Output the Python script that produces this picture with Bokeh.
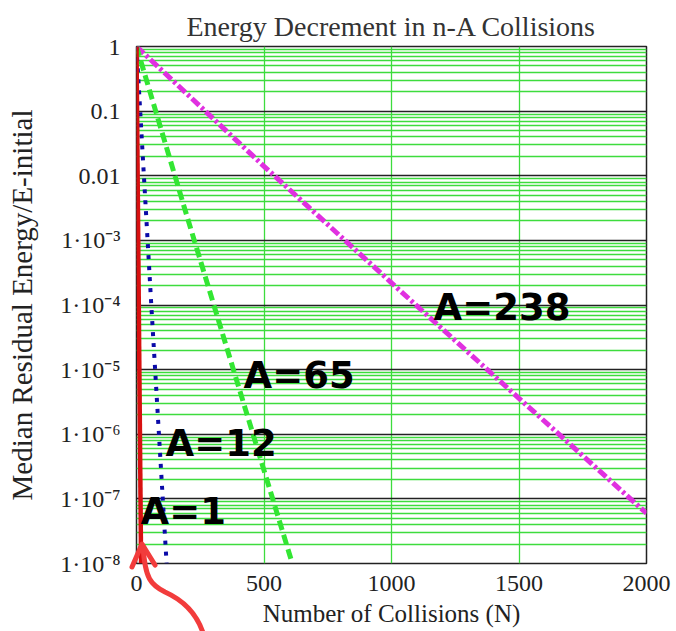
from bokeh.plotting import figure
from bokeh.models import Range1d, FixedTicker, CustomJSTickFormatter, ColumnDataSource, Div
from bokeh.layouts import column
from bokeh.core.properties import value
from bokeh.embed import file_html
from bokeh.resources import INLINE

# ---- data ----
n_a1 = [0, 18]
e_a1 = [1.0, 1e-8]
n_a12 = [0, 58, 118]
e_a12 = [1.0, 1e-4, 1e-8]
n_a65 = [0, 190, 380, 611]
e_a65 = [1.0, 3e-3, 1e-5, 1e-8]
n_a238 = [0, 500, 1000, 1500, 2000]
e_a238 = [1.0, 1.4e-2, 2.2e-4, 3.6e-6, 6e-8]

label_text = ["A=1", "A=12", "A=65", "A=238"]
label_n = [16, 114, 420, 1165]
label_e = [6.3e-8, 7.3e-7, 8.1e-6, 9.0e-5]

x_ticks = [0, 500, 1000, 1500, 2000]
y_ticks = [1e-8, 1e-7, 1e-6, 1e-5, 1e-4, 1e-3, 1e-2, 1e-1, 1.0]
y_tick_labels = ["1·10⁻⁸", "1·10⁻⁷", "1·10⁻⁶", "1·10⁻⁵", "1·10⁻⁴", "1·10⁻³", "0.01", "0.1", "1"]

SERIF = "Liberation Serif"

p = figure(frame_width=510, frame_height=517, output_backend="svg", toolbar_location=None,
           y_axis_type="log", x_range=Range1d(0, 2000), y_range=Range1d(1e-8, 1.0),
           min_border_left=136, min_border_right=30, min_border_top=46, min_border_bottom=68,
           title="Energy Decrement in n-A Collisions")

p.background_fill_color = "white"
p.border_fill_color = "white"
p.outline_line_color = "#222222"
p.outline_line_width = 1.5

p.title.text_font = SERIF
p.title.text_font_size = "28px"
p.title.text_font_style = "normal"
p.title.text_color = "#333333"
p.title.align = "center"

minor = [m * t for t in y_ticks[:-1] for m in range(2, 10)]
yt = FixedTicker(ticks=y_ticks, minor_ticks=minor)
p.yaxis.ticker = yt
p.ygrid.ticker = yt
p.yaxis.formatter = CustomJSTickFormatter(args=dict(tvals=y_ticks, tlabels=y_tick_labels), code="""
let best = 0, d = 1e9;
for (let i = 0; i < tvals.length; i++) {
  const dd = Math.abs(Math.log10(tvals[i]) - Math.log10(tick));
  if (dd < d) { d = dd; best = i; }
}
return tlabels[best];
""")
xt = FixedTicker(ticks=x_ticks, minor_ticks=[])
p.xaxis.ticker = xt
p.xgrid.ticker = xt

for ax in (p.xaxis, p.yaxis):
    ax.axis_line_color = None
    ax.major_tick_line_color = None
    ax.minor_tick_line_color = None
    ax.major_label_text_font = SERIF
    ax.major_label_text_font_size = "24px"
    ax.major_label_text_color = "#222222"
    ax.axis_label_text_font = SERIF
    ax.axis_label_text_font_style = "normal"
    ax.axis_label_text_color = "#222222"

p.xaxis.axis_label = "Number of Collisions (N)"
p.xaxis.axis_label_text_font_size = "25px"
p.xaxis.major_label_standoff = 6
p.xaxis.axis_label_standoff = 6
p.yaxis.axis_label = "Median Residual Energy/E-initial"
p.yaxis.axis_label_text_font_size = "29px"
p.yaxis.major_label_standoff = 10
p.yaxis.axis_label_standoff = 19

p.ygrid.grid_line_color = "#222222"
p.ygrid.grid_line_width = 1.3
p.ygrid.minor_grid_line_color = "#3ddc3d"
p.ygrid.minor_grid_line_width = 1.3
p.xgrid.grid_line_color = "#3ddc3d"
p.xgrid.grid_line_width = 1.3

p.line(n_a238, e_a238, line_color="#e030e0", line_width=5, line_dash="10 3 3 3")
p.line(n_a65, e_a65, line_color="#33e633", line_width=5, line_dash="10 5")
p.line(n_a12, e_a12, line_color="#0a0aa8", line_width=4, line_dash="4 7")
p.line(n_a1, e_a1, line_color="#d81010", line_width=4.5)

src = ColumnDataSource(dict(x=label_n, y=label_e, t=label_text))
p.text(x="x", y="y", text="t", source=src, text_font=value("DejaVu Sans"),
       text_font_style="bold", text_font_size="37px", text_baseline="middle",
       text_color="black")

# hand-drawn red annotation arrow, overlaid on the page (outside the plot frame)
arrow_svg = (
    '<svg width="676" height="631" xmlns="http://www.w3.org/2000/svg">'
    '<g fill="none" stroke="#f23c3c" stroke-width="5" stroke-linecap="round" stroke-linejoin="round">'
    '<path d="M199,631 C193,610 180,596 160,587 C146,580 140,574 138,541"/>'
    '<path d="M127,562 L137,539 L150,560"/>'
    '</g></svg>'
)
arrow_div = Div(text=arrow_svg, width=676, height=631,
                styles={"position": "absolute", "left": "0px", "top": "0px",
                        "z-index": "10", "pointer-events": "none"})

layout = column(p, arrow_div)
open("out.html", "w").write(file_html(layout, INLINE))
